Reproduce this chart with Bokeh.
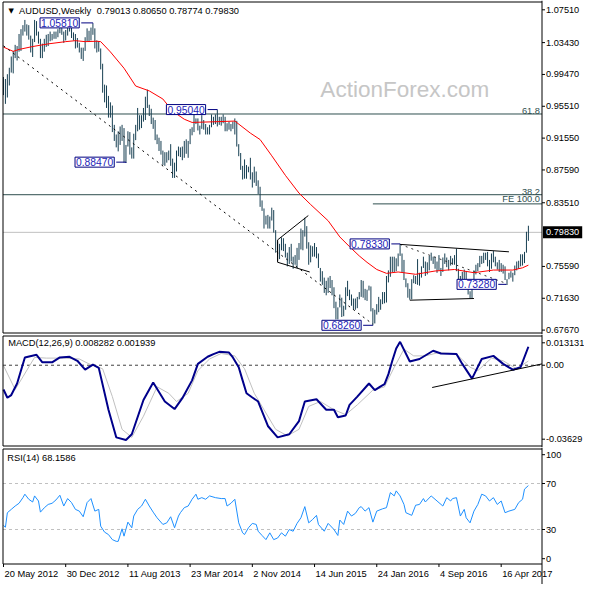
from bokeh.plotting import figure
from bokeh.layouts import column
from bokeh.models import Range1d, Label
from bokeh.embed import file_html
from bokeh.resources import INLINE

# ---------------- data (weekly AUDUSD, week 0 = 20 May 2012) ----------------
high = [0.9915, 0.9890, 0.9950, 1.0030, 1.0170, 1.0240, 1.0315, 1.0300, 1.0450, 1.0510,
        1.0560, 1.0625, 1.0570, 1.0560, 1.0430, 1.0390, 1.0625, 1.0610, 1.0480, 1.0390,
        1.0330, 1.0390, 1.0440, 1.0450, 1.0480, 1.0450, 1.0480, 1.0480, 1.0510, 1.0580,
        1.0530, 1.0480, 1.0500, 1.0570, 1.0600, 1.0570, 1.0470, 1.0450, 1.0400, 1.0340,
        1.0280, 1.0280, 1.0410, 1.0520, 1.0490, 1.0530, 1.0581, 1.0520, 1.0370, 1.0360,
        1.0270, 1.0080, 0.9820, 0.9810, 0.9680, 0.9600, 0.9560, 0.9320, 0.9200, 0.9240,
        0.9300, 0.9320, 0.9280, 0.9070, 0.9240, 0.9230, 0.9040, 0.9210, 0.9320, 0.9530,
        0.9440, 0.9440, 0.9530, 0.9670, 0.9758, 0.9570, 0.9520, 0.9410, 0.9380, 0.9200,
        0.9160, 0.9120, 0.9000, 0.8980, 0.8980, 0.9000, 0.9080, 0.8900, 0.8850, 0.9000,
        0.9050, 0.9040, 0.9050, 0.9120, 0.9140, 0.9120, 0.9270, 0.9290, 0.9460, 0.9400,
        0.9400, 0.9310, 0.9440, 0.9380, 0.9330, 0.9290, 0.9320, 0.9450, 0.9420, 0.9450,
        0.9504, 0.9420, 0.9420, 0.9450, 0.9420, 0.9340, 0.9360, 0.9330, 0.9360, 0.9400,
        0.9370, 0.9080, 0.8970, 0.8810, 0.8890, 0.8820, 0.8800, 0.8910, 0.8730, 0.8800,
        0.8740, 0.8630, 0.8550, 0.8380, 0.8280, 0.8190, 0.8200, 0.8180, 0.8290, 0.8260,
        0.8010, 0.7870, 0.7840, 0.7920, 0.7910, 0.7840, 0.7730, 0.7800, 0.7840, 0.7680,
        0.7700, 0.7790, 0.7850, 0.8030, 0.8010, 0.8165, 0.8060, 0.7860, 0.7820, 0.7810,
        0.7850, 0.7800, 0.7720, 0.7540, 0.7500, 0.7420, 0.7380, 0.7420, 0.7440, 0.7390,
        0.7300, 0.7120, 0.7050, 0.7210, 0.7170, 0.7070, 0.7300, 0.7380, 0.7270, 0.7210,
        0.7160, 0.7160, 0.7180, 0.7240, 0.7390, 0.7380, 0.7280, 0.7270, 0.7320, 0.7310,
        0.7040, 0.7020, 0.7090, 0.7180, 0.7150, 0.7240, 0.7240, 0.7440, 0.7510, 0.7680,
        0.7680, 0.7680, 0.7660, 0.7720, 0.7833, 0.7720, 0.7640, 0.7410, 0.7350, 0.7280,
        0.7400, 0.7450, 0.7440, 0.7650, 0.7480, 0.7560, 0.7680, 0.7620, 0.7610, 0.7690,
        0.7730, 0.7680, 0.7680, 0.7620, 0.7700, 0.7540, 0.7670, 0.7720, 0.7670, 0.7640,
        0.7690, 0.7660, 0.7700, 0.7780, 0.7530, 0.7440, 0.7490, 0.7520, 0.7500, 0.7360,
        0.7250, 0.7390, 0.7510, 0.7580, 0.7600, 0.7690, 0.7690, 0.7730, 0.7730, 0.7740,
        0.7640, 0.7720, 0.7750, 0.7680, 0.7610, 0.7640, 0.7600, 0.7580, 0.7560, 0.7400,
        0.7480, 0.7500, 0.7480, 0.7570, 0.7620, 0.7630, 0.7710, 0.7710, 0.7740, 0.7990,
        0.8065]
low = [0.9690, 0.9581, 0.9660, 0.9810, 0.9970, 0.9960, 1.0150, 1.0120, 1.0230, 1.0240,
       1.0430, 1.0480, 1.0430, 1.0380, 1.0220, 1.0164, 1.0350, 1.0430, 1.0330, 1.0150,
       1.0150, 1.0230, 1.0290, 1.0300, 1.0360, 1.0370, 1.0390, 1.0390, 1.0410, 1.0460,
       1.0440, 1.0340, 1.0370, 1.0430, 1.0480, 1.0400, 1.0370, 1.0270, 1.0280, 1.0220,
       1.0140, 1.0115, 1.0240, 1.0360, 1.0350, 1.0370, 1.0440, 1.0270, 1.0220, 1.0230,
       1.0010, 0.9720, 0.9600, 0.9530, 0.9410, 0.9410, 0.9230, 0.9120, 0.9040, 0.8990,
       0.9070, 0.9120, 0.8850, 0.8847, 0.9050, 0.8950, 0.8900, 0.8900, 0.9130, 0.9240,
       0.9260, 0.9280, 0.9360, 0.9380, 0.9530, 0.9430, 0.9330, 0.9270, 0.9130, 0.9080,
       0.8995, 0.8950, 0.8820, 0.8810, 0.8850, 0.8880, 0.8810, 0.8660, 0.8660, 0.8740,
       0.8930, 0.8920, 0.8880, 0.8910, 0.8960, 0.8910, 0.9080, 0.9190, 0.9230, 0.9330,
       0.9250, 0.9200, 0.9270, 0.9260, 0.9200, 0.9200, 0.9200, 0.9290, 0.9320, 0.9330,
       0.9300, 0.9320, 0.9310, 0.9340, 0.9240, 0.9240, 0.9260, 0.9240, 0.9270, 0.9200,
       0.9050, 0.8930, 0.8760, 0.8640, 0.8650, 0.8650, 0.8730, 0.8640, 0.8540, 0.8600,
       0.8560, 0.8460, 0.8300, 0.8250, 0.8030, 0.8080, 0.8030, 0.8030, 0.8130, 0.7980,
       0.7730, 0.7626, 0.7650, 0.7760, 0.7750, 0.7670, 0.7560, 0.7590, 0.7620, 0.7530,
       0.7580, 0.7540, 0.7640, 0.7770, 0.7760, 0.7930, 0.7780, 0.7580, 0.7610, 0.7680,
       0.7680, 0.7660, 0.7540, 0.7370, 0.7330, 0.7230, 0.7200, 0.7230, 0.7290, 0.7200,
       0.7040, 0.6900, 0.6900, 0.7050, 0.6930, 0.6940, 0.7020, 0.7190, 0.7140, 0.7070,
       0.7020, 0.7020, 0.7040, 0.7150, 0.7180, 0.7170, 0.7140, 0.7130, 0.7260, 0.7000,
       0.6826, 0.6850, 0.6960, 0.6990, 0.7020, 0.7090, 0.7100, 0.7110, 0.7360, 0.7430,
       0.7490, 0.7490, 0.7500, 0.7560, 0.7690, 0.7490, 0.7390, 0.7300, 0.7170, 0.7145,
       0.7150, 0.7350, 0.7340, 0.7330, 0.7320, 0.7420, 0.7540, 0.7440, 0.7460, 0.7510,
       0.7630, 0.7590, 0.7530, 0.7480, 0.7510, 0.7440, 0.7490, 0.7590, 0.7550, 0.7510,
       0.7570, 0.7580, 0.7580, 0.7500, 0.7380, 0.7310, 0.7370, 0.7400, 0.7300, 0.7210,
       0.7160, 0.7160, 0.7390, 0.7460, 0.7500, 0.7550, 0.7590, 0.7600, 0.7640, 0.7560,
       0.7490, 0.7530, 0.7610, 0.7560, 0.7520, 0.7490, 0.7490, 0.7470, 0.7390, 0.7328,
       0.7400, 0.7420, 0.7370, 0.7450, 0.7510, 0.7530, 0.7560, 0.7570, 0.7600, 0.7730,
       0.7877]
weeks = list(range(len(high)))

# moving average (red)
ma_weeks = [0, 5, 8, 15, 23, 32, 37, 42, 48, 50, 55, 62, 68, 75, 82, 87, 93, 97, 108, 119,
            127, 132, 138, 145, 152, 158, 167, 173, 178, 183, 187, 192, 197, 203, 212, 222,
            232, 242, 252, 262, 267, 270]
ma_vals = [1.0287, 1.0234, 1.0258, 1.0294, 1.0327, 1.0355, 1.0367, 1.0355, 1.0360, 1.0355,
           1.0227, 1.0024, 0.9803, 0.9742, 0.9641, 0.9490, 0.9390, 0.9350, 0.9358, 0.9367,
           0.9217, 0.9137, 0.8935, 0.8692, 0.8471, 0.8329, 0.8127, 0.7926, 0.7805, 0.7690,
           0.7610, 0.7521, 0.7473, 0.7490, 0.7461, 0.7502, 0.7521, 0.7481, 0.7514, 0.7514,
           0.7542, 0.7575]

# MACD(12,26,9)
macd_weeks = [0, 2, 4, 7, 11, 17, 20, 25, 29, 34, 38, 42, 46, 49, 54, 58, 63, 66, 72, 77,
              83, 88, 92, 97, 100, 105, 108, 111, 116, 118, 121, 123, 125, 128, 131, 136, 141,
              147, 152, 155, 161, 166, 170, 172, 176, 178, 182, 188, 191, 194, 196, 198, 200,
              202, 204, 209, 214, 221, 225, 233, 236, 241, 246, 252, 257, 262, 266, 270]
macd_vals = [-0.0109, -0.0146, -0.0134, -0.0082, 0.0035, 0.0047, 0.0013, 0.0013, 0.0035, 0.0038,
             0.0020, -0.0020, 0.0003, -0.0012, -0.0200, -0.0324, -0.0336, -0.0310, -0.0156,
             -0.0078, -0.0163, -0.0197, -0.0148, -0.0068, 0.0006, 0.0038, 0.0050, 0.0060,
             0.0057, 0.0035, -0.0009, -0.0068, -0.0126, -0.0145, -0.0163, -0.0273, -0.0324,
             -0.0310, -0.0251, -0.0163, -0.0153, -0.0200, -0.0200, -0.0234, -0.0226, -0.0178,
             -0.0141, -0.0082, -0.0112, -0.0095, -0.0085, -0.0040, 0.0020, 0.0075, 0.0105,
             0.0017, 0.0028, 0.0065, 0.0053, 0.0050, 0.0006, -0.0060, 0.0028, 0.0042, 0.0006,
             -0.0020, -0.0009, 0.0083]
signal_weeks = [0, 6, 10, 16, 22, 31, 39, 44, 51, 56, 61, 66, 72, 79, 85, 89, 95, 100, 106,
                112, 119, 124, 129, 134, 140, 146, 152, 157, 163, 170, 176, 182, 190, 196, 201,
                206, 211, 217, 224, 233, 240, 244, 251, 257, 264, 270]
signal_vals = [-0.0002, -0.0109, -0.0052, 0.0035, 0.0032, 0.0032, 0.0028, 0.0006, -0.0016,
               -0.0141, -0.0288, -0.0324, -0.0229, -0.0097, -0.0126, -0.0163, -0.0126, -0.0024,
               0.0028, 0.0053, 0.0042, -0.0016, -0.0126, -0.0200, -0.0288, -0.0317, -0.0288,
               -0.0185, -0.0163, -0.0200, -0.0222, -0.0178, -0.0112, -0.0097, -0.0009, 0.0072,
               0.0042, 0.0042, 0.0057, 0.0050, -0.0009, -0.0024, 0.0032, 0.0020, -0.0016, 0.0019]

# RSI(14)
rsi_weeks = [0, 1, 2, 4, 6, 8, 10, 11, 13, 15, 16, 18, 19, 21, 23, 25, 27, 29, 31, 33, 35, 37,
             39, 41, 43, 45, 47, 49, 50, 52, 54, 56, 58, 59, 61, 62, 64, 66, 67, 69, 71, 73, 75,
             77, 79, 82, 84, 86, 88, 90, 91, 93, 95, 97, 99, 100, 102, 104, 106, 109, 112, 114,
             115, 117, 119, 121, 123, 124, 126, 128, 130, 131, 133, 135, 137, 139, 141, 143,
             145, 147, 149, 151, 153, 155, 157, 159, 161, 162, 165, 167, 170, 172, 173, 175,
             177, 179, 181, 183, 184, 186, 188, 190, 192, 195, 197, 199, 201, 202, 204, 206,
             207, 210, 212, 214, 216, 217, 220, 223, 226, 228, 230, 231, 233, 235, 237, 238,
             240, 242, 244, 246, 248, 250, 252, 254, 256, 258, 260, 263, 265, 267, 268, 270]
rsi_vals = [33.5, 32.0, 44.6, 47.5, 50.4, 52.8, 57.7, 60.7, 56.3, 53.9, 59.2, 54.8, 45.1, 48.9,
            51.8, 52.8, 55.7, 59.8, 50.4, 56.9, 53.4, 47.5, 46.0, 41.1, 53.4, 56.9, 46.0, 47.5,
            32.9, 27.7, 25.6, 21.2, 19.7, 19.7, 30.6, 24.2, 36.4, 31.5, 41.7, 47.5, 50.4, 56.3,
            50.4, 45.1, 40.2, 34.4, 35.8, 41.1, 31.5, 41.7, 44.6, 49.0, 50.4, 56.3, 60.7, 56.3,
            57.7, 56.3, 59.2, 57.7, 56.9, 56.9, 50.4, 52.8, 56.3, 35.8, 27.1, 25.6, 31.5, 35.3,
            34.4, 28.5, 24.8, 21.2, 27.1, 21.2, 22.6, 27.1, 24.2, 30.0, 28.5, 35.3, 40.2, 49.9,
            35.8, 38.7, 42.3, 34.4, 28.5, 35.3, 30.0, 24.8, 38.2, 34.4, 46.0, 41.7, 44.0, 49.0,
            49.9, 46.0, 49.0, 36.4, 46.0, 48.0, 49.0, 62.1, 59.2, 63.6, 59.2, 51.8, 44.6, 42.3,
            51.1, 51.8, 56.9, 53.9, 59.2, 54.8, 50.4, 57.7, 54.8, 56.9, 57.7, 41.7, 47.5, 40.2,
            35.8, 46.0, 51.8, 60.7, 59.2, 54.8, 57.7, 51.8, 54.8, 44.6, 46.0, 47.5, 53.4, 56.3,
            65.1, 68.2]

# axis ticks / labels
price_ticks = [1.0751, 1.0343, 0.9947, 0.9551, 0.9155, 0.8759, 0.8351, 0.7559, 0.7163, 0.6767]
price_min, price_max = 0.6731, 1.0848
macd_min, macd_max = -0.03629, 0.013131
macd_tick_texts = ["0.013131", "0.00", "-0.03629"]
rsi_levels = [70, 30]
rsi_tick_texts = ["100", "70", "30", "0"]
date_ticks = [0, 32, 64, 96, 128, 160, 192, 224, 256]
date_labels = ["20 May 2012", "30 Dec 2012", "11 Aug 2013", "23 Mar 2014", "2 Nov 2014",
               "14 Jun 2015", "24 Jan 2016", "4 Sep 2016", "16 Apr 2017"]
last_price = 0.7983
ohlc_text = "0.79013 0.80650 0.78774 0.79830"

# analyst annotations (week, price)
fib_levels = [0.9455, 0.8451]
fib_texts = ["61.8", "38.2"]
fe_level = 0.8337
fe_start = 190
trend_long_w = [0, 190]
trend_long_p = [1.0303, 0.6840]
trend_short_w = [204, 258.5]
trend_short_p = [0.7833, 0.7349]
solid_lines_w = [[141, 156.8], [141, 141], [141, 157.5], [204, 260], [209, 242]]
solid_lines_p = [[0.7889, 0.8192], [0.7889, 0.7611], [0.7611, 0.7490], [0.7833, 0.7741],
                 [0.7139, 0.7160]]
box_texts = ["1.05810", "0.95040", "0.88470", "0.78330", "0.68260", "0.73280"]
box_right_w = [40, 105, 58, 199.5, 185, 254.5]
box_price = [1.0588, 0.9510, 0.8856, 0.7839, 0.6827, 0.7336]
pivot_w = [46, 110, 63, 204, 190, 258.5]
pivot_p = [1.0581, 0.9504, 0.8847, 0.7833, 0.6826, 0.7328]
macd_trend_w = [220.5, 277]
macd_trend_v = [-0.0100, 0.0006]

# ---------------- layout (pixels) ----------------
FONT = "Liberation Sans"
FS = "9.3px"
FS_AX = "9.2px"
BAR = "#173f52"
W = 584
H1, H2, H3 = 334, 113, 137
X_LEFT_PX, X_AXIS_PX = 2.5, 541.5
W_LEFT, W_AXIS = -0.25, 277
ppw = (X_AXIS_PX - X_LEFT_PX) / (W_AXIS - W_LEFT)
xr = Range1d(W_LEFT - X_LEFT_PX / ppw, W_AXIS + (W - X_AXIS_PX) / ppw)


def wk(px):
    return px / ppw


def make_range(vmin, vmax, top_px, bot_px, H):
    k = (vmax - vmin) / (bot_px - top_px)
    return Range1d(vmin - (H - bot_px) * k, vmax + top_px * k), k


def make_fig(H, rng):
    p = figure(width=W, height=H, x_range=xr, y_range=rng, output_backend="svg",
               toolbar_location=None, x_axis_location=None, y_axis_location=None,
               title=None, min_border=0, outline_line_color=None,
               background_fill_color="white", border_fill_color="white")
    p.grid.visible = False
    return p


def txt(p, x, y, text, **kw):
    d = dict(text_font=FONT, text_font_size=FS, text_color="black",
             text_baseline="middle", text_align="left")
    d.update(kw)
    p.add_layout(Label(x=x, y=y, text=text, **d))


def frame(p, vmin, vmax):
    p.segment(x0=[W_LEFT, W_LEFT, W_LEFT], y0=[vmax, vmin, vmin],
              x1=[W_AXIS, W_AXIS, W_LEFT], y1=[vmax, vmin, vmax],
              line_color="black", line_width=1)
    p.segment(x0=[W_AXIS], y0=[p.y_range.start], x1=[W_AXIS], y1=[p.y_range.end],
              line_color="black", line_width=1)


def right_axis(p, vals, texts):
    n = len(vals)
    p.segment(x0=[W_AXIS] * n, y0=vals, x1=[W_AXIS + wk(3)] * n, y1=vals,
              line_color="black", line_width=1)
    for v, t in zip(vals, texts):
        txt(p, W_AXIS + wk(4), v, t, text_font_size=FS_AX)


def hline(p, level, x0=W_LEFT, **kw):
    p.segment(x0=[x0], y0=[level], x1=[W_AXIS], y1=[level], **kw)


# ---------------- main price panel ----------------
r1, k1 = make_range(price_min, price_max, 1.5, 332.5, H1)
p1 = make_fig(H1, r1)

p1.add_layout(Label(x=163, y=0.9758, text="ActionForex.com", text_font=FONT,
                    text_font_size="22.5px", text_color="#c6c6c6",
                    text_baseline="alphabetic", level="underlay"))

for lv in fib_levels:
    hline(p1, lv, line_color="#2f4f4f", line_width=1)
hline(p1, fe_level, x0=fe_start, line_color="#2f4f4f", line_width=1)
hline(p1, last_price, line_color="#c0c0c0", line_width=1)

p1.segment(x0=weeks, y0=low, x1=weeks, y1=high, line_color=BAR, line_width=1)
p1.line(ma_weeks, ma_vals, line_color="red", line_width=1)

p1.line(trend_long_w, trend_long_p, line_color="black", line_dash="2 4", line_width=1)
p1.line(trend_short_w, trend_short_p, line_color="#333333", line_dash="2 4", line_width=1)
p1.multi_line(solid_lines_w, solid_lines_p, line_color="black", line_width=1)

conn_x = [[r, w, w] for r, w in zip(box_right_w, pivot_w)]
conn_y = [[b, b, pp] for b, pp in zip(box_price, pivot_p)]
p1.multi_line(conn_x, conn_y, line_color="#000080", line_width=1)
for t, r, b in zip(box_texts, box_right_w, box_price):
    p1.add_layout(Label(x=r, y=b, text=t, x_offset=-2, text_align="right",
                        text_baseline="middle", text_font=FONT, text_font_size="10.3px",
                        text_color="#2323b8", border_line_color="#000080",
                        background_fill_color="white", padding=1))

for lv, t in zip(fib_levels, fib_texts):
    txt(p1, W_AXIS, lv, t, text_align="right", text_baseline="bottom",
        x_offset=-2, text_color="#2f4f4f")
txt(p1, W_AXIS, fe_level, "FE 100.0", text_align="right", text_baseline="bottom",
    x_offset=-2, text_color="#2f4f4f")

txt(p1, 2.6, 1.0739, "\u25BC", text_font="DejaVu Sans", text_font_size="7px")
txt(p1, 8, 1.0739, "AUDUSD,Weekly")
txt(p1, 48, 1.0739, ohlc_text)

frame(p1, price_min, price_max)
right_axis(p1, price_ticks, [f"{v:.5f}" for v in price_ticks])
p1.add_layout(Label(x=W_AXIS, y=last_price, text=f"{last_price:.5f}", x_offset=1,
                    text_align="left", text_baseline="middle", text_font=FONT,
                    text_font_size=FS_AX, text_color="white",
                    background_fill_color="black", padding=3))

# ---------------- MACD panel ----------------
r2, k2 = make_range(macd_min, macd_max, 1.5, 111.5, H2)
p2 = make_fig(H2, r2)
hline(p2, 0, line_color="#404040", line_dash="3 3", line_width=1)
p2.line(signal_weeks, signal_vals, line_color="#c0c0c0", line_width=1)
p2.line(macd_weeks, macd_vals, line_color="#00008b", line_width=2)
p2.line(macd_trend_w, macd_trend_v, line_color="black", line_width=1)
txt(p2, 2.4, macd_max - 7 * k2, "MACD(12,26,9) 0.008282 0.001939")
frame(p2, macd_min, macd_max)
right_axis(p2, [macd_max - 6.8 * k2, 0.0, macd_min + 6.8 * k2], macd_tick_texts)

# ---------------- RSI panel ----------------
r3, k3 = make_range(0, 100, 1.5, 116.5, H3)
p3 = make_fig(H3, r3)
for lv in rsi_levels:
    hline(p3, lv, line_color="#c0c0c0", line_dash="3 3", line_width=1)
p3.line(rsi_weeks, rsi_vals, line_color="#1e90ff", line_width=1)
txt(p3, 2, 100 - 8.5 * k3, "RSI(14) 68.1586")
frame(p3, 0, 100)
right_axis(p3, [100 - 5.7 * k3, 70, 30, 5.3 * k3], rsi_tick_texts)

nd = len(date_ticks)
p3.segment(x0=date_ticks, y0=[0] * nd, x1=date_ticks, y1=[-3 * k3] * nd,
           line_color="black", line_width=1)
for t, lab in zip(date_ticks, date_labels):
    txt(p3, t + wk(1), -10 * k3, lab)

layout = column(p1, p2, p3, spacing=0)
open("out.html", "w").write(file_html(layout, INLINE))
